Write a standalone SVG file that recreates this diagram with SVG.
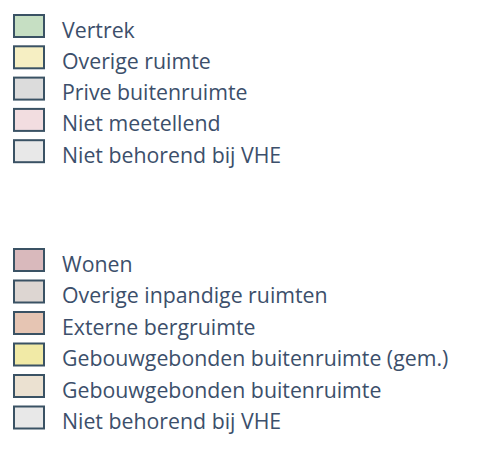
<svg xmlns="http://www.w3.org/2000/svg" width="477" height="454" viewBox="0 0 477 454">
<style>
.b{stroke:#3a5264;stroke-width:2}
.t{font-family:"Open Sans",sans-serif;font-size:21.3px;fill:#3c4f6b}
</style>
<rect width="477" height="454" fill="#fff"/>
<g id="vertrek"><rect class="b" x="14" y="15" width="30" height="22" fill="#c6dfc3"/><text class="t" x="62" y="37.5">Vertrek</text></g>
<g id="overige-ruimte"><rect class="b" x="14" y="46.3" width="30" height="22" fill="#f6efc3"/><text class="t" x="62" y="68.8">Overige ruimte</text></g>
<g id="prive-buitenruimte"><rect class="b" x="14" y="77.6" width="30" height="22" fill="#dcdcdc"/><text class="t" x="62" y="100.1">Prive buitenruimte</text></g>
<g id="niet-meetellend"><rect class="b" x="14" y="108.9" width="30" height="22" fill="#f2dde0"/><text class="t" x="62" y="131.4">Niet meetellend</text></g>
<g id="niet-behorend-1"><rect class="b" x="14" y="140.2" width="30" height="22" fill="#e8e8e8"/><text class="t" x="62" y="162.7">Niet behorend bij VHE</text></g>
<g id="wonen"><rect class="b" x="14" y="249" width="30" height="22" fill="#d9b9bc"/><text class="t" x="62" y="271.5">Wonen</text></g>
<g id="overige-inpandige"><rect class="b" x="14" y="280.5" width="30" height="22" fill="#ddd6d2"/><text class="t" x="62" y="303">Overige inpandige ruimten</text></g>
<g id="externe-bergruimte"><rect class="b" x="14" y="312" width="30" height="22" fill="#e6c5b3"/><text class="t" x="62" y="334.5">Externe bergruimte</text></g>
<g id="gebouwgebonden-gem"><rect class="b" x="14" y="343.5" width="30" height="22" fill="#f1eaa6"/><text class="t" x="62" y="366">Gebouwgebonden buitenruimte (gem.)</text></g>
<g id="gebouwgebonden"><rect class="b" x="14" y="375" width="30" height="22" fill="#ebe1d1"/><text class="t" x="62" y="397.5">Gebouwgebonden buitenruimte</text></g>
<g id="niet-behorend-2"><rect class="b" x="14" y="406.5" width="30" height="22" fill="#e8e8e8"/><text class="t" x="62" y="429">Niet behorend bij VHE</text></g>
</svg>
